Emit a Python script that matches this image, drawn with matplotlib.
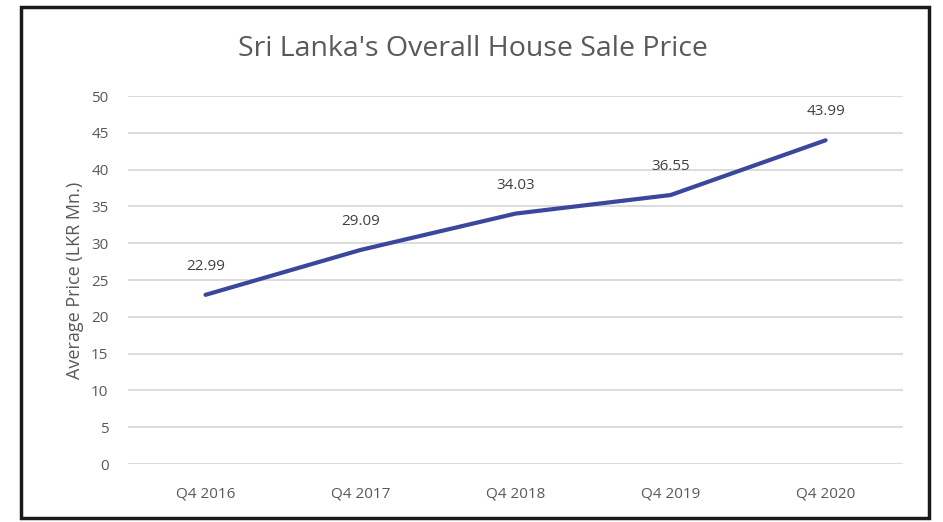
import matplotlib.pyplot as plt
from matplotlib.patches import Rectangle

# data
quarters = ['Q4 2016', 'Q4 2017', 'Q4 2018', 'Q4 2019', 'Q4 2020']
prices = [22.99, 29.09, 34.03, 36.55, 43.99]
yticks = [0, 5, 10, 15, 20, 25, 30, 35, 40, 45, 50]

plt.rcParams['font.family'] = ['Open Sans', 'DejaVu Sans']

fig = plt.figure(figsize=(9.43, 5.22), dpi=100)
ax = fig.add_axes([0.1357, 0.111, 0.822, 0.705])

xs = list(range(len(quarters)))
ax.plot(xs, prices, color='#3A479C', linewidth=3, solid_capstyle='round')

for x, p in zip(xs, prices):
    ax.annotate(f'{p:.2f}', (x, p), xytext=(0, 15), textcoords='offset points',
                ha='center', va='bottom', fontsize=11, color='#404040')

ax.set_xlim(-0.5, len(quarters) - 0.5)
ax.set_ylim(0, 50)
ax.set_yticks(yticks)
ax.set_xticks(xs)
ax.set_xticklabels(quarters)
ax.tick_params(length=0, labelsize=11, colors='#595959')
ax.tick_params(axis='x', pad=16)
ax.tick_params(axis='y', pad=14)
ax.grid(axis='y', color='#d9d9d9', linewidth=1.3)
ax.set_axisbelow(True)
for s in ax.spines.values():
    s.set_visible(False)

ax.set_ylabel('Average Price (LKR Mn.)', fontsize=13, color='#595959', labelpad=5)

fig.text(0.502, 0.906, "Sri Lanka's Overall House Sale Price", ha='center', va='center',
         fontsize=20.5, color='#595959')

# outer border of the chart
fig.patches.append(Rectangle((0.0223, 0.008), 0.963, 0.979, transform=fig.transFigure,
                             fill=False, edgecolor='#1a1a1a', linewidth=2.5))

fig.savefig('out.png', dpi=100)
